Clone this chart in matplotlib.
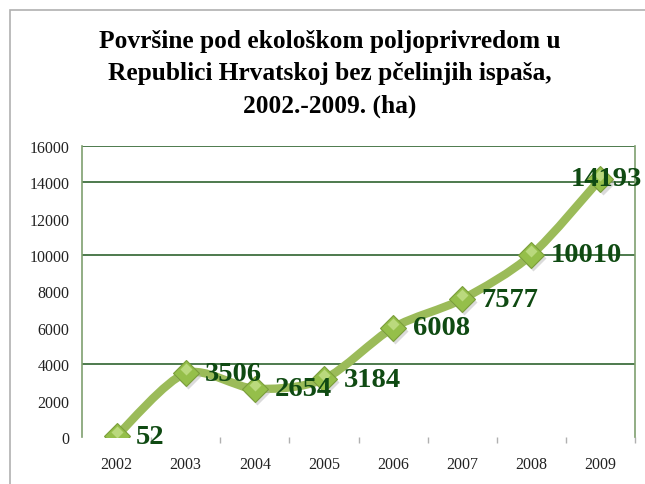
import numpy as np
import matplotlib
matplotlib.use('Agg')
import matplotlib.pyplot as plt
import matplotlib.transforms as mtransforms
from matplotlib.path import Path
from matplotlib.patches import PathPatch, Rectangle

# data
godine = ['2002', '2003', '2004', '2005', '2006', '2007', '2008', '2009']
povrsina = [52, 3506, 2654, 3184, 6008, 7577, 10010, 14193]
y_ticks = [0, 2000, 4000, 6000, 8000, 10000, 12000, 14000, 16000]
grid_at = [4000, 10000, 14000, 16000]
naslov = 'Površine pod ekološkom poljoprivredom u\nRepublici Hrvatskoj bez pčelinjih ispaša,\n2002.-2009. (ha)'

linija = '#9BBB59'
tamno = '#0f4a12'
serif = ['Liberation Serif', 'DejaVu Serif']


def smooth_path(xs, ys, k=7.0):
    # catmull-rom -> bezier, like excel smoothed line
    pts = np.column_stack([xs, ys]).astype(float)
    n = len(pts)
    verts = [pts[0]]
    codes = [Path.MOVETO]
    for i in range(n - 1):
        p0 = pts[i - 1] if i > 0 else pts[i]
        p1 = pts[i]
        p2 = pts[i + 1]
        p3 = pts[i + 2] if i + 2 < n else pts[i + 1]
        c1 = p1 + (p2 - p0) / k
        c2 = p2 - (p3 - p1) / k
        verts += [c1, c2, p2]
        codes += [Path.CURVE4] * 3
    return Path(verts, codes)


fig = plt.figure(figsize=(6.45, 4.85), dpi=100)
fig.patches.append(Rectangle((10 / 645, -0.1), 1.2, 1 - 11 / 485 + 0.1, transform=fig.transFigure,
                             fill=False, edgecolor='#b0b0b0', lw=1.2))

ax = fig.add_axes([82 / 645, 1 - 438 / 485, (635 - 82) / 645, (438 - 147) / 485])
x = np.arange(len(godine))

ax.set_xlim(-0.5, len(godine) - 0.5)
ax.set_ylim(0, 16000)

for g in grid_at:
    ax.axhline(g, color='#3f6f3f', lw=1.3, zorder=1)

ax.add_patch(PathPatch(smooth_path(x, povrsina), fill=False, edgecolor=linija, lw=6,
                       capstyle='round', joinstyle='round', zorder=3))
# shadow + markers
sjena = ax.transData + mtransforms.ScaledTranslation(1.5 / 72, -2 / 72, fig.dpi_scale_trans)
ax.plot(x, povrsina, ls='none', marker='D', ms=13.5, mfc='#b8b8b8', mec='none', alpha=0.5,
        zorder=3.5, transform=sjena)
ax.plot(x, povrsina, ls='none', marker='D', ms=13.5, mfc='#95bf4a', mec='#7a9e3a', mew=0.8, zorder=4)
sjaj = ax.transData + mtransforms.ScaledTranslation(0, 3 / 72, fig.dpi_scale_trans)
ax.plot(x, povrsina, ls='none', marker='D', ms=6, mfc='#c4e08a', mec='none', alpha=0.8, zorder=4.5,
        transform=sjaj)

for i, v in enumerate(povrsina):
    if i == len(povrsina) - 1:
        ax.annotate(str(v), (x[i], v), xytext=(4, 0), textcoords='offset points', ha='center', va='center',
                    fontsize=20.5, fontweight='bold', color=tamno, family=serif, zorder=5, annotation_clip=False)
    else:
        ax.annotate(str(v), (x[i], v), xytext=(14, 0), textcoords='offset points', ha='left', va='center',
                    fontsize=20.5, fontweight='bold', color=tamno, family=serif, zorder=5, annotation_clip=False)

ax.set_yticks(y_ticks)
ax.set_yticklabels([str(t) for t in y_ticks], family=serif, fontsize=11.5, color='#222222')
ax.tick_params(axis='y', length=0, pad=9)

ax.set_xticks(x)
ax.set_xticklabels(godine, family=serif, fontsize=11.5, color='#222222')
ax.set_xticks(np.arange(len(godine)) + 0.5, minor=True)
ax.tick_params(axis='x', which='major', length=0, pad=14)
ax.tick_params(axis='x', which='minor', length=4.5, width=1, color='#b0b0b0', direction='out')

for s in ['top', 'bottom']:
    ax.spines[s].set_visible(False)
ax.spines['left'].set_color('#7f9f6f')
ax.spines['right'].set_color('#7f9f6f')
ax.spines['left'].set_linewidth(1.2)
ax.spines['right'].set_linewidth(1.2)

fig.text(330 / 645, 1 - 30 / 485, naslov, ha='center', va='top', fontsize=18.3, fontweight='bold',
         family=serif, linespacing=1.52, color='black')

fig.savefig('out.png', dpi=100)
